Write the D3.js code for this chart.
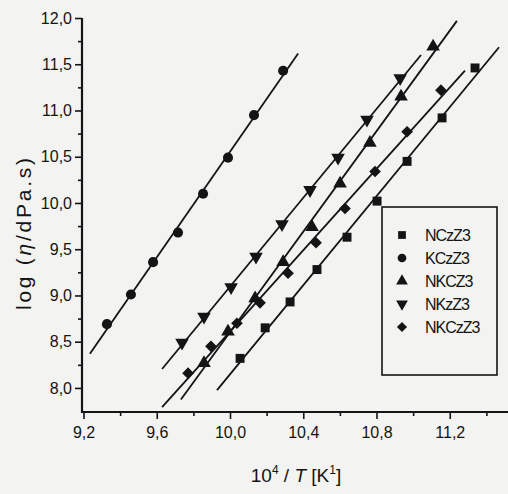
<!DOCTYPE html>
<html>
<head>
<meta charset="utf-8">
<script src="https://cdn.jsdelivr.net/npm/d3@7"></script>
<style>
  html, body { margin: 0; padding: 0; background: #f3f3f1; }
  svg { display: block; font-family: "Liberation Sans", Arial, sans-serif; }
</style>
</head>
<body>
<svg id="chart" width="508" height="494"></svg>
<script>
// series names, in legend order
var seriesNames = ['NCzZ3', 'KCzZ3', 'NKCZ3', 'NKzZ3', 'NKCzZ3'];
var seriesSymbols = ['square', 'circle', 'triangle', 'triangleDown', 'diamond'];

// measured points: 10^4/T and log(eta)
var nczz3X = [10.055, 10.192, 10.328, 10.475, 10.639, 10.803, 10.967, 11.158, 11.338];
var nczz3Y = [8.32, 8.65, 8.93, 9.28, 9.63, 10.02, 10.45, 10.92, 11.46];

var kczz3X = [9.328, 9.459, 9.580, 9.716, 9.853, 9.989, 10.131, 10.290];
var kczz3Y = [8.69, 9.01, 9.36, 9.68, 10.10, 10.49, 10.95, 11.43];

var nkcz3X = [9.858, 9.989, 10.137, 10.290, 10.448, 10.601, 10.764, 10.934, 11.109];
var nkcz3Y = [8.27, 8.61, 8.97, 9.36, 9.74, 10.21, 10.65, 11.15, 11.69];

var nkzz3X = [9.738, 9.858, 10.006, 10.142, 10.284, 10.437, 10.590, 10.748, 10.929];
var nkzz3Y = [8.49, 8.77, 9.09, 9.42, 9.77, 10.14, 10.49, 10.90, 11.35];

var nkczz3X = [9.771, 9.896, 10.038, 10.164, 10.317, 10.470, 10.628, 10.792, 10.967, 11.152];
var nkczz3Y = [8.16, 8.45, 8.70, 8.92, 9.24, 9.57, 9.94, 10.34, 10.77, 11.22];

// x extent of each fitted straight line
var nczz3Fit = [9.929, 11.469];
var kczz3Fit = [9.235, 10.372];
var nkcz3Fit = [9.732, 11.239];
var nkzz3Fit = [9.629, 11.043];
var nkczz3Fit = [9.629, 11.283];

// axis ticks
var xMajorTicks = [9.2, 9.6, 10.0, 10.4, 10.8, 11.2];
var xMinorTicks = [9.4, 9.8, 10.2, 10.6, 11.0, 11.4];
var yMajorTicks = [8.0, 8.5, 9.0, 9.5, 10.0, 10.5, 11.0, 11.5, 12.0];
var yMinorTicks = [8.25, 8.75, 9.25, 9.75, 10.25, 10.75, 11.25, 11.75];

var seriesX = [nczz3X, kczz3X, nkcz3X, nkzz3X, nkczz3X];
var seriesY = [nczz3Y, kczz3Y, nkcz3Y, nkzz3Y, nkczz3Y];
var seriesFit = [nczz3Fit, kczz3Fit, nkcz3Fit, nkzz3Fit, nkczz3Fit];

var ink = '#141414';
var svg = d3.select('#chart');

var x = d3.scaleLinear().domain([9.2, 11.518]).range([83.5, 508]);
var y = d3.scaleLinear().domain([7.74, 12.0]).range([412, 18]);
var comma = function(v){ return d3.format('.1f')(v).replace('.', ','); };

// linear least squares for the fit lines
function fitLine(xs, ys){
	var mx = d3.mean(xs), my = d3.mean(ys);
	var num = d3.sum(xs, function(v, i){ return (v - mx) * (ys[i] - my); });
	var den = d3.sum(xs, function(v){ return (v - mx) * (v - mx); });
	var b = num / den;
	return function(v){ return my + b * (v - mx); };
}

function symbolPath(kind, size){
	switch(kind){
		case 'square' : return d3.symbol(d3.symbolSquare, size)();
		case 'circle' : return d3.symbol(d3.symbolCircle, size)();
		case 'triangle' : return d3.symbol(d3.symbolTriangle, size)();
		case 'triangleDown' : return d3.symbol(d3.symbolTriangle, size)();
		case 'diamond' : return d3.symbol(d3.symbolSquare, size * 0.85)();
	}
}
function symbolRotate(kind){
	if(kind == 'triangleDown') return ' rotate(180)';
	if(kind == 'diamond') return ' rotate(45)';
	return '';
}

// fitted lines and points
var plot = svg.append('g').attr('class', 'plot');
seriesNames.forEach(function(name, i){
	var f = fitLine(seriesX[i], seriesY[i]);
	var ends = seriesFit[i];
	plot.append('line')
	  .attr('x1', x(ends[0])).attr('y1', y(f(ends[0])))
	  .attr('x2', x(ends[1])).attr('y2', y(f(ends[1])))
	  .attr('stroke', ink).attr('stroke-width', 1.8);

	plot.selectAll('path.s' + i)
	  .data(seriesX[i].map(function(v, j){ return [v, seriesY[i][j]]; }))
	  .enter().append('path')
	  .attr('class', 's' + i)
	  .attr('d', symbolPath(seriesSymbols[i], 80))
	  .attr('transform', function(d){ return 'translate(' + x(d[0]) + ',' + y(d[1]) + ')' + symbolRotate(seriesSymbols[i]); })
	  .attr('fill', ink);
});

// axes
function styleAxis(g){
	g.select('.domain').remove();
	g.selectAll('line').attr('stroke', ink).attr('stroke-width', 1.6);
	g.selectAll('text').attr('fill', ink).style('font-size', '16px');
}
svg.append('g').attr('transform', 'translate(0,412)')
   .call(d3.axisBottom(x).tickValues(xMajorTicks).tickSize(7).tickPadding(8).tickFormat(comma))
   .call(styleAxis);
svg.append('g').attr('transform', 'translate(0,412)')
   .call(d3.axisBottom(x).tickValues(xMinorTicks).tickSize(4).tickFormat(''))
   .call(styleAxis);
svg.append('g').attr('transform', 'translate(82,0)')
   .call(d3.axisLeft(y).tickValues(yMajorTicks).tickSize(7).tickPadding(3).tickFormat(comma))
   .call(styleAxis);
svg.append('g').attr('transform', 'translate(82,0)')
   .call(d3.axisLeft(y).tickValues(yMinorTicks).tickSize(4).tickFormat(''))
   .call(styleAxis);

// axis lines
svg.append('line').attr('x1', 82).attr('y1', y(12.0)).attr('x2', 82).attr('y2', 412)
   .attr('stroke', ink).attr('stroke-width', 2.2);
svg.append('line').attr('x1', 81).attr('y1', 412).attr('x2', 508).attr('y2', 412)
   .attr('stroke', ink).attr('stroke-width', 2.2);

// axis titles
var yt = svg.append('text')
   .attr('transform', 'translate(31,234) rotate(-90)')
   .attr('text-anchor', 'middle')
   .attr('textLength', 152).attr('lengthAdjust', 'spacing')
   .attr('fill', ink).style('font-size', '21px');
yt.append('tspan').text('log (');
yt.append('tspan').style('font-style', 'italic').text('\u03b7');
yt.append('tspan').text('/dPa.s)');

var xt = svg.append('text')
   .attr('x', 296).attr('y', 482)
   .attr('text-anchor', 'middle')
   .attr('fill', ink).style('font-size', '19px');
xt.append('tspan').text('10');
xt.append('tspan').attr('dy', -8).style('font-size', '12px').text('4');
xt.append('tspan').attr('dy', 8).text(' / ');
xt.append('tspan').style('font-style', 'italic').text('T');
xt.append('tspan').text(' [K');
xt.append('tspan').attr('dy', -8).style('font-size', '12px').text('1');
xt.append('tspan').attr('dy', 8).text(']');

// legend
var lg = svg.append('g').attr('transform', 'translate(382,207)');
lg.append('rect').attr('width', 115).attr('height', 168)
  .attr('fill', '#f3f3f1').attr('stroke', ink).attr('stroke-width', 1.6);
seriesNames.forEach(function(name, i){
	var row = lg.append('g').attr('transform', 'translate(0,' + (28 + i * 23) + ')');
	row.append('path')
	   .attr('d', symbolPath(seriesSymbols[i], 60))
	   .attr('transform', 'translate(20,0)' + symbolRotate(seriesSymbols[i]))
	   .attr('fill', ink);
	row.append('text')
	   .attr('x', 43).attr('y', 0).attr('dy', '0.36em')
	   .attr('fill', ink).style('font-size', '16px').style('letter-spacing', '-1px')
	   .text(name);
});
</script>
</body>
</html>
